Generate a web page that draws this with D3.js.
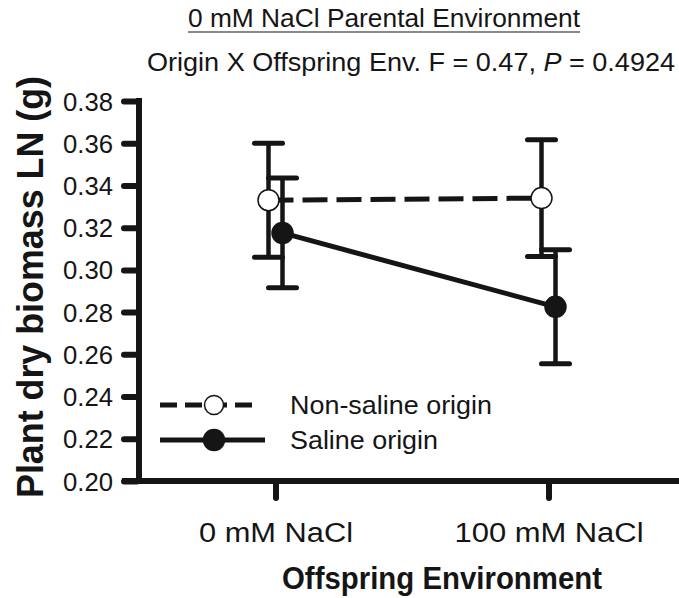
<!DOCTYPE html>
<html>
<head>
<meta charset="utf-8">
<script src="https://cdn.jsdelivr.net/npm/d3@7"></script>
<style>
  body { margin: 0; background: #fff; }
  svg { display: block; font-family: "Liberation Sans", Arial, sans-serif; }
</style>
</head>
<body>
<svg id="chartSVG" width="679" height="598"></svg>
<script>
// data
var categories = ["0 mM NaCl", "100 mM NaCl"];
var nonSalineMean = [0.333, 0.334];
var nonSalineSE = [0.027, 0.0277];
var salineMean = [0.3175, 0.2825];
var salineSE = [0.026, 0.027];
var yTicks = [0.20, 0.22, 0.24, 0.26, 0.28, 0.30, 0.32, 0.34, 0.36, 0.38];
var seriesNames = ["Non-saline origin", "Saline origin"];

var ink = "#151515";
var svg = d3.select("#chartSVG");

// plot box (note: "top" is taken by window.top)
var mLeft = 139, mTop = 101, mRight = 685, mBottom = 481;
var width = mRight - mLeft, height = mBottom - mTop;

var x = d3.scalePoint().domain(categories).range([0, width]).padding(0.5);
var y = d3.scaleLinear().domain([0.20, 0.38]).range([height, 0]);

var g = svg.append("g").attr("transform", "translate(" + mLeft + "," + mTop + ")");

// axes: d3 places the ticks and labels, the heavy strokes are redrawn on top
function heavyAxis(a) {
  a.select(".domain").remove();
  a.selectAll(".tick line").remove();
  a.selectAll("text").attr("fill", ink);
}

var xAxis = g.append("g")
    .attr("transform", "translate(0," + height + ")")
    .call(d3.axisBottom(x).tickSize(18).tickSizeOuter(0).tickPadding(24))
    .call(heavyAxis);
xAxis.selectAll("text")
    .style("font-size", "27px")
    .attr("textLength", function(d, i) { return i == 0 ? 154 : 189; })
    .attr("lengthAdjust", "spacingAndGlyphs");
xAxis.append("line")
    .attr("x1", -17).attr("x2", width + 5)
    .attr("stroke", ink).attr("stroke-width", 6);
xAxis.selectAll(".tick").append("line")
    .attr("y1", 2).attr("y2", 17)
    .attr("stroke", ink).attr("stroke-width", 6).attr("stroke-linecap", "round");

var yAxis = g.append("g")
    .call(d3.axisLeft(y).tickValues(yTicks).tickFormat(d3.format(".2f")).tickSize(17).tickSizeOuter(0).tickPadding(9))
    .call(heavyAxis);
yAxis.selectAll("text")
    .style("font-size", "25px")
    .attr("dy", "0.36em")
    .attr("textLength", 50)
    .attr("lengthAdjust", "spacingAndGlyphs");
yAxis.append("line")
    .attr("y1", height + 3).attr("y2", -3)
    .attr("stroke", ink).attr("stroke-width", 6);
yAxis.selectAll(".tick").append("line")
    .attr("x1", -2).attr("x2", -15)
    .attr("stroke", ink).attr("stroke-width", 6).attr("stroke-linecap", "round");

var series = [
  { id: seriesNames[0], mean: nonSalineMean, se: nonSalineSE, dx: -7, open: true },
  { id: seriesNames[1], mean: salineMean, se: salineSE, dx: 7, open: false }
];

var line = d3.line()
    .x(function(d) { return d.x; })
    .y(function(d) { return d.y; });

function pts(s) {
  return categories.map(function(c, i) {
    return { x: x(c) + s.dx, y: y(s.mean[i]), hi: y(s.mean[i] + s.se[i]), lo: y(s.mean[i] - s.se[i]) };
  });
}

// connecting lines
series.forEach(function(s) {
  g.append("path")
      .attr("d", line(pts(s)))
      .attr("fill", "none")
      .attr("stroke", ink)
      .attr("stroke-width", 5)
      .attr("stroke-dasharray", s.open ? "25,9" : null);
});

// error bars
series.forEach(function(s) {
  var eb = g.append("g").selectAll("g").data(pts(s)).enter().append("g");
  eb.append("line")
      .attr("x1", function(d) { return d.x; }).attr("x2", function(d) { return d.x; })
      .attr("y1", function(d) { return d.hi; }).attr("y2", function(d) { return d.lo; })
      .attr("stroke", ink).attr("stroke-width", 4.5);
  ["hi", "lo"].forEach(function(k) {
    eb.append("line")
        .attr("x1", function(d) { return d.x - 14; }).attr("x2", function(d) { return d.x + 14; })
        .attr("y1", function(d) { return d[k]; }).attr("y2", function(d) { return d[k]; })
        .attr("stroke", ink).attr("stroke-width", 5).attr("stroke-linecap", "round");
  });
});

// points
series.forEach(function(s) {
  g.append("g").selectAll("circle").data(pts(s)).enter().append("circle")
      .attr("cx", function(d) { return d.x; })
      .attr("cy", function(d) { return d.y; })
      .attr("r", 10.5)
      .attr("fill", s.open ? "#fff" : ink)
      .attr("stroke", ink)
      .attr("stroke-width", 1.5);
});

// legend
var leg = svg.append("g").attr("transform", "translate(160,405)");
series.forEach(function(s, i) {
  var row = leg.append("g").attr("transform", "translate(0," + (i * 35) + ")");
  row.append("line")
      .attr("x1", 0).attr("x2", s.open ? 96 : 105)
      .attr("stroke", ink).attr("stroke-width", 5)
      .attr("stroke-dasharray", s.open ? "17,8" : null);
  row.append("circle")
      .attr("cx", 54).attr("r", s.open ? 9.5 : 10.5)
      .attr("fill", s.open ? "#fff" : ink)
      .attr("stroke", ink).attr("stroke-width", 1.5);
  row.append("text")
      .attr("x", 130).attr("dy", "0.36em")
      .style("font-size", "26px").attr("fill", ink)
      .attr("textLength", s.open ? 202 : 148).attr("lengthAdjust", "spacingAndGlyphs")
      .text(s.id);
});

// titles
svg.append("text")
    .attr("x", 384).attr("y", 27)
    .attr("text-anchor", "middle")
    .style("font-size", "25px").attr("fill", ink)
    .attr("textLength", 392).attr("lengthAdjust", "spacingAndGlyphs")
    .text("0 mM NaCl Parental Environment");
svg.append("line")
    .attr("x1", 188).attr("x2", 580).attr("y1", 32).attr("y2", 32)
    .attr("stroke", ink).attr("stroke-width", 1.2);

var sub = svg.append("text")
    .attr("x", 411).attr("y", 71)
    .attr("text-anchor", "middle")
    .style("font-size", "26px").attr("fill", ink)
    .attr("textLength", 528).attr("lengthAdjust", "spacingAndGlyphs");
sub.append("tspan").text("Origin X Offspring Env. F = 0.47, ");
sub.append("tspan").style("font-style", "italic").text("P");
sub.append("tspan").text(" = 0.4924");

svg.append("text")
    .attr("x", 442).attr("y", 589)
    .attr("text-anchor", "middle")
    .style("font-size", "32px").style("font-weight", "bold").attr("fill", ink)
    .attr("textLength", 320).attr("lengthAdjust", "spacingAndGlyphs")
    .text("Offspring Environment");

svg.append("text")
    .attr("transform", "translate(43,287) rotate(-90)")
    .attr("text-anchor", "middle")
    .style("font-size", "37px").style("font-weight", "bold").attr("fill", ink)
    .attr("textLength", 422).attr("lengthAdjust", "spacingAndGlyphs")
    .text("Plant dry biomass LN (g)");
</script>
</body>
</html>
